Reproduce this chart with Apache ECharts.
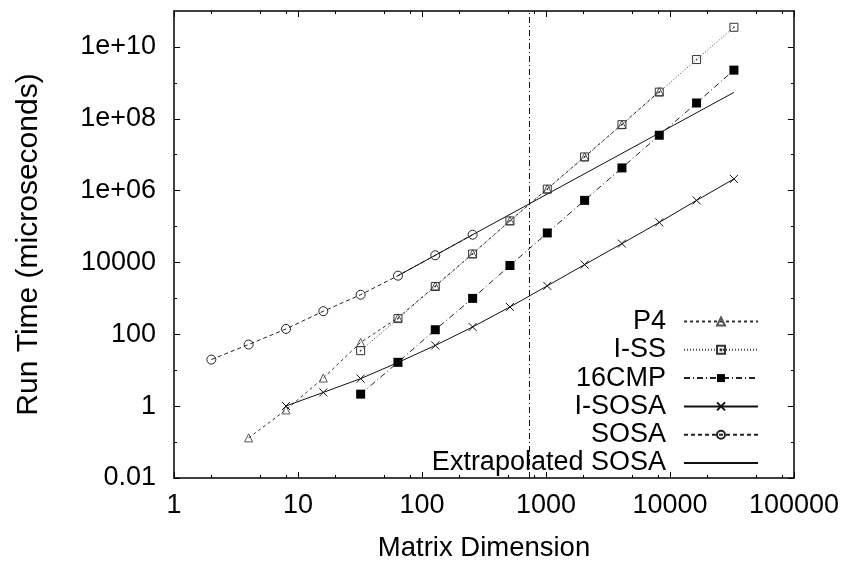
<!DOCTYPE html>
<html>
<head>
<meta charset="utf-8">
<script src="https://cdn.jsdelivr.net/npm/echarts@6/dist/echarts.min.js"></script>
<style>
html,body{margin:0;padding:0;background:#fff;}
#chart{width:846px;height:567px;}
</style>
</head>
<body>
<div id="chart"></div>
<script>
// ---- data ----
var p4X = [4, 8, 16, 32, 64, 128, 256, 512, 1024, 2048, 4096, 8192];
var p4Y = [0.131, 0.787, 6.07, 59.2, 288, 2232, 17580, 145000, 1.12e6, 8.75e6, 6.97e7, 5.77e8];

var issX = [32, 64, 128, 256, 512, 1024, 2048, 4096, 8192, 16384, 32768];
var issY = [35, 273, 2138, 17200, 143700, 1.1e6, 8.65e6, 6.84e7, 5.52e8, 4.45e9, 3.52e10];

var cmpX = [32, 64, 128, 256, 512, 1024, 2048, 4096, 8192, 16384, 32768];
var cmpY = [2.16, 16.6, 134, 1000, 8220, 66300, 535000, 4.28e6, 3.48e7, 2.75e8, 2.26e9];

var isosaX = [8, 16, 32, 64, 128, 256, 512, 1024, 2048, 4096, 8192, 16384, 32768];
var isosaY = [1.01, 2.41, 5.84, 16.4, 49, 160, 577, 2233, 8710, 33500, 130400, 535000, 2.11e6];

var sosaX = [2, 4, 8, 16, 32, 64, 128, 256];
var sosaY = [19.8, 52, 141, 440, 1264, 4285, 15850, 59200];

var extX = [64, 128, 256, 32768];
var extY = [4285, 15850, 59200, 5.42e8];

var crossoverX = 730;

var xTickValues = [1, 10, 100, 1000, 10000, 100000];
var xTickLabels = ['1', '10', '100', '1000', '10000', '100000'];
var xMinorValues = [2, 5, 8, 20, 50, 80, 200, 500, 800, 2000, 5000, 8000, 20000, 50000, 80000];

var yTickValues = [0.01, 1, 100, 10000, 1e6, 1e8, 1e10];
var yTickLabels = ['0.01', '1', '100', '10000', '1e+06', '1e+08', '1e+10'];
var yMinorValues = [0.1, 10, 1000, 1e5, 1e7, 1e9];

function pairs(xs, ys) { return xs.map(function (x, i) { return [x, ys[i]]; }); }
function lookup(vals, labels) {
  return function (v) {
    for (var i = 0; i < vals.length; i++) {
      if (Math.abs(Math.log10(v) - Math.log10(vals[i])) < 1e-6) return labels[i];
    }
    return '';
  };
}

var FONT = 'Liberation Sans';
var FS = 27;

function xAxisDef(pos, major, showLabel, showName) {
  return {
    type: 'log', logBase: 10, min: 1, max: 100000, position: pos,
    axisLine: { show: major, lineStyle: { color: '#000', width: 1.5 } },
    axisTick: { show: true, inside: true, length: major ? 6 : 3,
      customValues: major ? xTickValues : xMinorValues,
      lineStyle: { color: '#000', width: 1 } },
    axisLabel: { show: showLabel, customValues: xTickValues,
      formatter: lookup(xTickValues, xTickLabels),
      fontFamily: FONT, fontSize: FS, color: '#000', margin: 14 },
    splitLine: { show: false },
    name: showName ? 'Matrix Dimension' : '',
    nameLocation: 'middle', nameGap: 56,
    nameTextStyle: { fontFamily: FONT, fontSize: 27.5, color: '#000' }
  };
}
function yAxisDef(pos, major, showLabel, showName) {
  return {
    type: 'log', logBase: 10, min: 0.01, max: 1e11, position: pos,
    axisLine: { show: major, lineStyle: { color: '#000', width: 1.5 } },
    axisTick: { show: true, inside: true, length: major ? 6 : 3,
      customValues: major ? yTickValues : yMinorValues,
      lineStyle: { color: '#000', width: 1 } },
    axisLabel: { show: showLabel, customValues: yTickValues,
      formatter: lookup(yTickValues, yTickLabels),
      fontFamily: FONT, fontSize: FS, color: '#000', margin: 18 },
    splitLine: { show: false },
    name: showName ? 'Run Time (microseconds)' : '',
    nameLocation: 'middle', nameGap: 130,
    nameTextStyle: { fontFamily: FONT, fontSize: 30, color: '#000' }
  };
}

var crossPath = 'path://M0,0L10,10M10,0L0,10';
var boxDotPath = 'path://M0,0H10V10H0Z M4.5,4.5H5.5V5.5H4.5Z';

var chart = echarts.init(document.getElementById('chart'), null, { renderer: 'canvas' });
chart.setOption({
  animation: false,
  backgroundColor: '#fff',
  grid: { left: 174, right: 52, top: 11, bottom: 83, containLabel: false },
  xAxis: [
    xAxisDef('bottom', true, true, true),
    xAxisDef('bottom', false, false, false),
    xAxisDef('top', true, false, false),
    xAxisDef('top', false, false, false)
  ],
  yAxis: [
    yAxisDef('left', true, true, true),
    yAxisDef('left', false, false, false),
    yAxisDef('right', true, false, false),
    yAxisDef('right', false, false, false)
  ],
  legend: {
    orient: 'vertical', align: 'right', right: 87, top: 308, padding: 0,
    itemWidth: 74, itemHeight: 10, itemGap: 1.3,
    textStyle: { fontFamily: FONT, fontSize: FS, color: '#000', lineHeight: 27, padding: [0, 13, 0, 0] },
    data: ['P4', 'I-SS', '16CMP', 'I-SOSA', 'SOSA',
      { name: 'Extrapolated SOSA', itemStyle: { opacity: 0 } }]
  },
  series: [
    { name: 'P4', type: 'line', data: pairs(p4X, p4Y), symbol: 'triangle', symbolSize: 8,
      itemStyle: { color: 'rgba(0,0,0,0)', borderColor: '#555', borderWidth: 1 },
      lineStyle: { color: '#333', width: 1, type: [3, 3] }, z: 3 },
    { name: 'I-SS', type: 'line', data: pairs(issX, issY), symbol: boxDotPath, symbolSize: 8,
      itemStyle: { color: 'rgba(0,0,0,0)', borderColor: '#333', borderWidth: 1 },
      lineStyle: { color: '#444', width: 1, type: [1, 2] }, z: 3 },
    { name: '16CMP', type: 'line', data: pairs(cmpX, cmpY), symbol: 'rect', symbolSize: 9,
      itemStyle: { color: '#000', borderColor: '#000', borderWidth: 0 },
      lineStyle: { color: '#222', width: 1, type: [6, 3, 1, 3] }, z: 3 },
    { name: 'I-SOSA', type: 'line', data: pairs(isosaX, isosaY), symbol: crossPath, symbolSize: 8,
      itemStyle: { color: 'rgba(0,0,0,0)', borderColor: '#111', borderWidth: 1 },
      lineStyle: { color: '#111', width: 1, type: 'solid' }, z: 3 },
    { name: 'SOSA', type: 'line', data: pairs(sosaX, sosaY), symbol: 'circle', symbolSize: 9,
      itemStyle: { color: 'rgba(0,0,0,0)', borderColor: '#222', borderWidth: 1 },
      lineStyle: { color: '#222', width: 1, type: [4, 3] }, z: 3 },
    { name: 'Extrapolated SOSA', type: 'line', data: pairs(extX, extY), symbol: 'none',
      itemStyle: { color: '#111' },
      lineStyle: { color: '#111', width: 1, type: 'solid' }, z: 3,
      markLine: { silent: true, symbol: ['none', 'none'], label: { show: false },
        lineStyle: { color: '#111', width: 1, type: [6, 3, 1, 3] },
        data: [{ xAxis: crossoverX }] } }
  ]
});
</script>
</body>
</html>
